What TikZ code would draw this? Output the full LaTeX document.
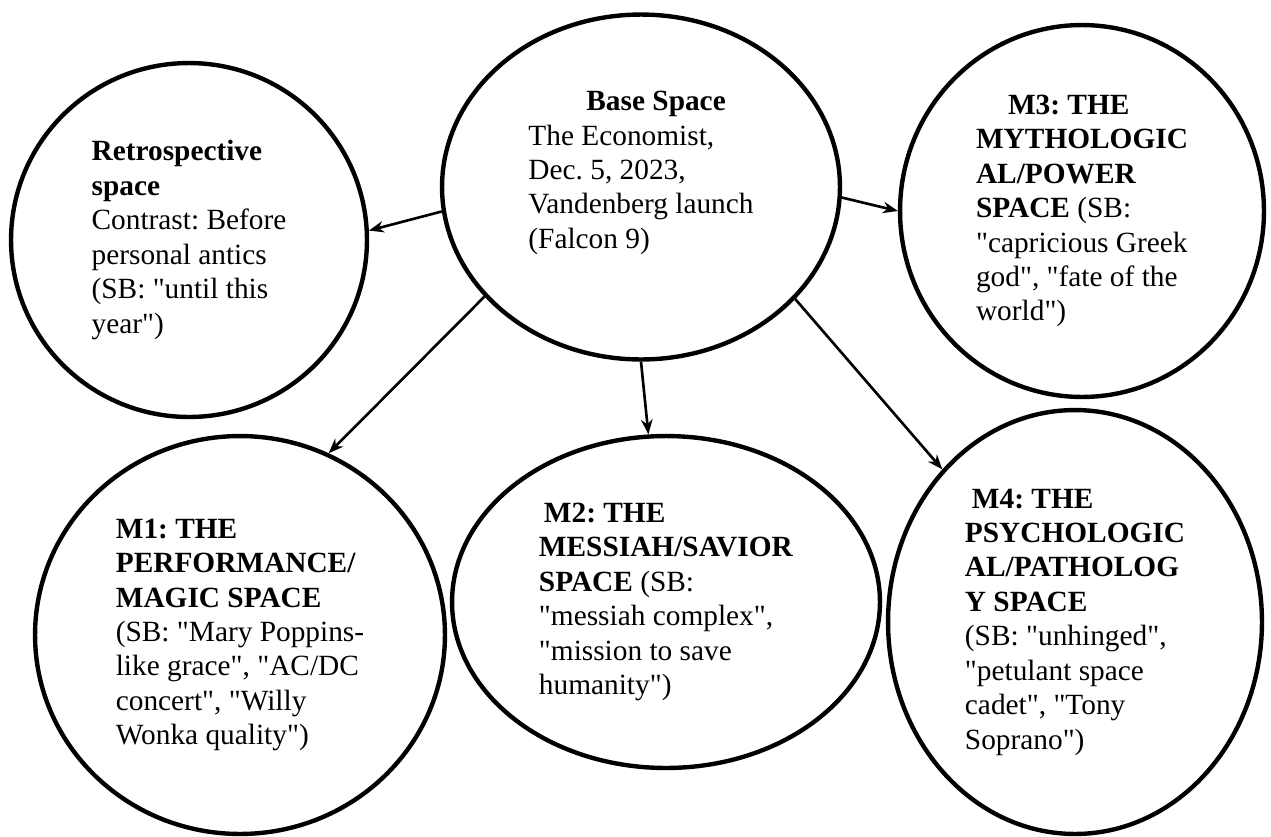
\documentclass[tikz,border=0pt]{standalone}
\usepackage{fontspec}
\setmainfont{Liberation Serif}[Ligatures=TeXOff]
\frenchspacing
\usetikzlibrary{arrows.meta,shapes.geometric}

\begin{document}
\begin{tikzpicture}[
  x=0.02cm, y=-0.02cm,
  >=Stealth,
  SP/.style={
    ellipse, draw=black, line width=2.5pt,
    font=\fontsize{16.7}{19.6}\selectfont, align=left, inner sep=0pt
  },
  arr/.style={-{Stealth[length=8.5pt,width=6.5pt]}, draw=black, line width=1.5pt}
]
\path[use as bounding box, fill=white] (0,0) rectangle (1271,836);

\node[SP, minimum width=7.96cm, minimum height=6.9cm] (B) at (641,187)
  {\hspace*{1.16cm}\textbf{Base Space}\\ The Economist,\\ Dec. 5, 2023,\\
   Vandenberg launch\\ (Falcon 9)\\ \mbox{}};

\node[SP, minimum width=7.12cm, minimum height=7.08cm] (R) at (189,240)
  {\textbf{Retrospective}\\ \textbf{space}\\ Contrast: Before\\
   personal antics\\ (SB: "until this\\ year")};

\node[SP, minimum width=7.28cm, minimum height=7.44cm] (M3) at (1082,211)
  {\hspace*{0.64cm}\textbf{M3: THE}\\ \textbf{MYTHOLOGIC}\\ \textbf{AL/POWER}\\
   \textbf{SPACE} (SB:\\ "capricious Greek\\ god", "fate of the\\ world")};

\node[SP, minimum width=8.2cm, minimum height=7.96cm] (M1) at (240,635)
  {\textbf{M1: THE}\\ \textbf{PERFORMANCE/}\\ \textbf{MAGIC SPACE}\\
   (SB: "Mary Poppins-\\ like grace", "AC/DC\\ concert", "Willy\\ Wonka quality")};

\node[SP, minimum width=8.56cm, minimum height=6.64cm] (M2) at (666,602)
  {\hspace*{0.1cm}\textbf{M2: THE}\\ \textbf{MESSIAH/SAVIOR}\\ \textbf{SPACE} (SB:\\
   "messiah complex",\\ "mission to save\\ humanity")};

\node[SP, minimum width=7.48cm, minimum height=8.48cm] (M4) at (1075,622)
  {\hspace*{0.14cm}\textbf{M4: THE}\\ \textbf{PSYCHOLOGIC}\\ \textbf{AL/PATHOLOG}\\
   \textbf{Y SPACE}\\ (SB: "unhinged",\\ "petulant space\\ cadet", "Tony\\ Soprano")};

\draw[arr] (B.187)   -- (R.3);
\draw[arr] (B.357)   -- (M3.180);
\draw[arr] (B.215.5) -- (M1.64);
\draw[arr] (B.270.5) -- (M2.96);
\draw[arr] (B.324.3) -- (M4.131);

\end{tikzpicture}
\end{document}
